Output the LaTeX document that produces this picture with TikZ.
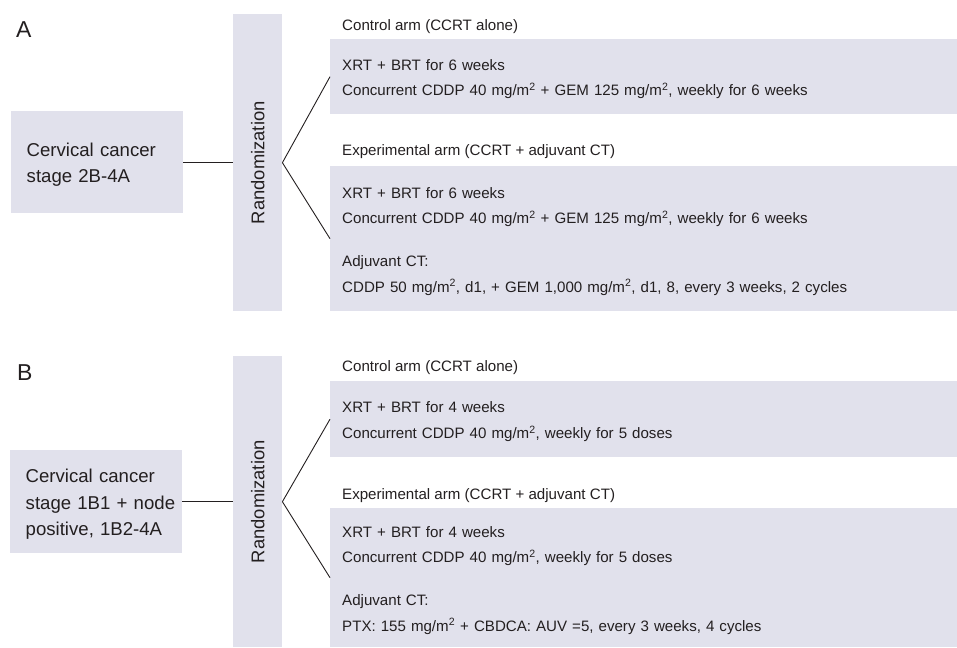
\documentclass[tikz,border=0pt]{standalone}
\usepackage{fontspec}
\setmainfont{Liberation Sans}
\newfontfamily\armfont{Liberation Sans}
\usetikzlibrary{positioning}
\definecolor{TrialBox}{RGB}{225,225,236}
\definecolor{TrialInk}{HTML}{231F20}
\tikzset{
  armbox/.style={fill=TrialBox,anchor=north west,align=left,inner xsep=12pt,inner ysep=0pt,
    text width=603pt,font=\armfont\fontsize{15.1}{25.5}\selectfont,
    execute at begin node=\rule{0pt}{16pt}},
  patbox/.style={fill=TrialBox,anchor=north west,align=left,inner xsep=15.5pt,inner ysep=0pt,
    text width=141pt,font=\fontsize{18.6}{26.5}\selectfont,
    execute at begin node=\rule{0pt}{18.6pt}},
  randbar/.style={fill=TrialBox,anchor=north west,minimum width=49pt,inner sep=0pt},
  randtext/.style={rotate=90,inner sep=0pt,font=\fontsize{18.4}{20}\selectfont},
  armlabel/.style={anchor=base west,inner sep=0pt,font=\armfont\fontsize{15.1}{19}\selectfont},
  panel/.style={anchor=base west,inner sep=0pt,font=\fontsize{23}{24}\selectfont},
  link/.style={draw=TrialInk,line width=.9pt}
}
\newcommand{\msq}{mg/m\textsuperscript{2}}

\begin{document}
\begin{tikzpicture}[x=1pt,y=-1pt,every node/.append style={text=TrialInk}]
  \useasboundingbox (0,0) rectangle (957,647);

  \node[panel] (panA) at (16,37.5) {A};
  \node[patbox,minimum height=102pt] (patA) at (11,111) {Cervical~cancer\\stage~2B-4A};
  \node[randbar,minimum height=297pt] (randA) at (233,14) {};
  \node[randtext] (randAtxt) at (randA) {Randomization};
  \node[armlabel] (ctlAlab) at (342,31) {Control arm (CCRT alone)};
  \node[armbox,minimum height=75pt] (ctlA) at (330,39)
    {XRT + BRT for 6 weeks\\Concurrent CDDP 40 \msq{} + GEM 125 \msq, weekly for 6 weeks};
  \node[armlabel] (expAlab) at (342,156) {Experimental arm (CCRT + adjuvant CT)};
  \node[armbox,minimum height=145pt] (expA) at (330,166)
    {XRT + BRT for 6 weeks\\Concurrent CDDP 40 \msq{} + GEM 125 \msq, weekly for 6 weeks\\[17.5pt]
     Adjuvant CT:\\CDDP 50 \msq, d1, + GEM 1,000 \msq, d1, 8, every 3 weeks, 2 cycles};
  \draw[link] (patA.east) -- (patA.east -| randA.west);
  \draw[link] (randA.east) -- (ctlA.west);
  \draw[link] (randA.east) -- (expA.west);

  \node[panel] (panB) at (17,380) {B};
  \node[patbox,minimum height=103pt] (patB) at (10,450)
    {Cervical~cancer\\stage~1B1~+~node\\positive,~1B2-4A};
  \node[randbar,minimum height=291pt] (randB) at (233,356) {};
  \node[randtext] (randBtxt) at (randB) {Randomization};
  \node[armlabel] (ctlBlab) at (342,371) {Control arm (CCRT alone)};
  \node[armbox,minimum height=76pt] (ctlB) at (330,381)
    {XRT + BRT for 4 weeks\\Concurrent CDDP 40 \msq, weekly for 5 doses};
  \node[armlabel] (expBlab) at (342,499) {Experimental arm (CCRT + adjuvant CT)};
  \node[armbox,minimum height=139pt] (expB) at (330,508)
    {XRT + BRT for 4 weeks\\Concurrent CDDP 40 \msq, weekly for 5 doses\\[17.5pt]
     Adjuvant CT:\\PTX: 155 \msq{} + CBDCA: AUV =5, every 3 weeks, 4 cycles};
  \draw[link] (patB.east) -- (patB.east -| randB.west);
  \draw[link] (randB.east) -- (ctlB.west);
  \draw[link] (randB.east) -- (expB.west);
\end{tikzpicture}
\end{document}
